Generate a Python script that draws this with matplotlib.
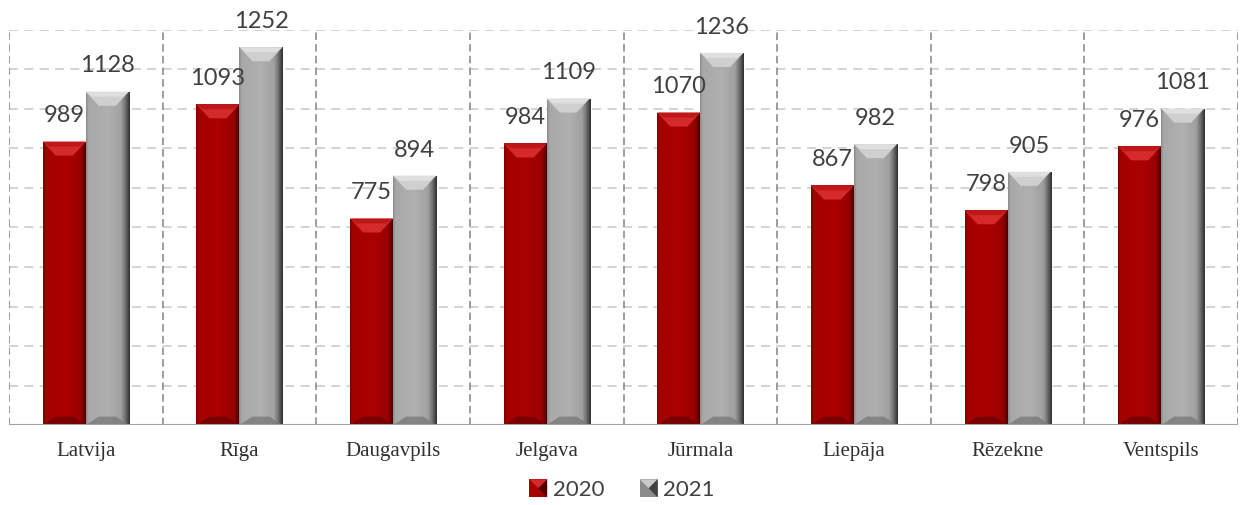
import numpy as np
import matplotlib.pyplot as plt
from matplotlib.patches import Polygon, Rectangle
from matplotlib.colors import LinearSegmentedColormap
from matplotlib.legend_handler import HandlerBase

cities = ['Latvija', 'Rīga', 'Daugavpils', 'Jelgava', 'Jūrmala', 'Liepāja', 'Rēzekne', 'Ventspils']
v2020 = [989, 1093, 775, 984, 1070, 867, 798, 976]
v2021 = [1128, 1252, 894, 1109, 1236, 982, 905, 1081]
series = ['2020', '2021']

YMIN, YMAX = 200, 1300

W, H = 12.44, 5.05
fig = plt.figure(figsize=(W, H), dpi=100)
ax = fig.add_axes([9 / 1244, 80 / 505, 1229 / 1244, 395 / 505])

x = np.arange(len(cities))
bw = 0.28
ax.set_xlim(-0.5, len(cities) - 0.5)
ax.set_ylim(YMIN, YMAX)

# pixel -> data conversion for bevel sizes
px_x = (len(cities)) / 1229.0
px_y = (YMAX - YMIN) / 395.0

red_cmap = LinearSegmentedColormap.from_list(
    'r', [(0, '#7a0000'), (0.06, '#a30000'), (0.5, '#ab0000'), (0.85, '#9a0000'), (0.93, '#6a0000'), (1, '#3a0000')])
gray_cmap = LinearSegmentedColormap.from_list(
    'g', [(0, '#8a8a8a'), (0.06, '#a8a8a8'), (0.5, '#b0b0b0'), (0.8, '#a0a0a0'), (0.9, '#6e6e6e'), (1, '#2e2e2e')])
grad = np.linspace(0, 1, 256).reshape(1, -1)


def bevel_bars(bars, cmap, top_col, top_edge, bot_col):
    for b in bars:
        x0, y0 = b.get_x(), b.get_y()
        x1, y1 = x0 + b.get_width(), y0 + b.get_height()
        im = ax.imshow(grad, cmap=cmap, extent=[x0, x1, y0, y1], aspect='auto',
                       origin='lower', zorder=3, interpolation='bilinear')
        im.set_clip_path(b)
        ix, iy = 13 * px_x, 14 * px_y
        ax.add_patch(Polygon([(x0, y1), (x1, y1), (x1 - ix, y1 - iy), (x0 + ix, y1 - iy)],
                             closed=True, fc=top_col, ec='none', zorder=4))
        ax.add_patch(Polygon([(x0, y1), (x1, y1), (x1 - ix * 0.5, y1 - iy * 0.35), (x0 + ix * 0.5, y1 - iy * 0.35)],
                             closed=True, fc=top_edge, ec='none', zorder=4, alpha=0.7))
        ax.add_patch(Polygon([(x0, y0), (x1, y0), (x1 - ix, y0 + iy * 0.6), (x0 + ix, y0 + iy * 0.6)],
                             closed=True, fc=bot_col, ec='none', zorder=4, alpha=0.8))


b1 = ax.bar(x - bw / 2, np.array(v2020) - YMIN, bw, bottom=YMIN, color='#a50000', zorder=2)
b2 = ax.bar(x + bw / 2, np.array(v2021) - YMIN, bw, bottom=YMIN, color='#a6a6a6', zorder=2)
bevel_bars(b1, red_cmap, '#d42a2a', '#b51010', '#6e0000')
bevel_bars(b2, gray_cmap, '#cfcfcf', '#e6e6e6', '#7a7a7a')

for bars, vals in ((b1, v2020), (b2, v2021)):
    for b, v in zip(bars, vals):
        ax.annotate(str(v), (b.get_x() + b.get_width() / 2, v), xytext=(0, 11),
                    textcoords='offset points', ha='center', va='bottom',
                    fontsize=17, family='Lato', color='#404040', zorder=6)

# grid
for yv in np.linspace(YMIN, YMAX, 11)[1:]:
    ax.axhline(yv, color='#d0d0d0', lw=1.3, ls=(0, (5, 3.5)), zorder=1)
for xv in np.arange(-0.5, len(cities) + 0.5, 1.0):
    ax.axvline(xv, color='#8c8c8c', lw=1.2, ls=(0, (4.5, 2.5)), zorder=1)
ax.axhline(YMIN, color='#a0a0a0', lw=1.5, zorder=5)

for s in ax.spines.values():
    s.set_visible(False)
ax.set_yticks([])
ax.set_xticks(x)
ax.set_xticklabels(cities, family='Liberation Serif', fontsize=15, color='#303030')
ax.tick_params(axis='x', length=0, pad=12)


class BevelHandler(HandlerBase):
    def __init__(self, c1, c2, c3):
        super().__init__()
        self.c = (c1, c2, c3)

    def create_artists(self, legend, orig_handle, xdescent, ydescent, width, height, fontsize, trans):
        s = height * 1.05
        x0 = -xdescent + (width - s) / 2
        y0 = -ydescent + (height - s) / 2
        base = Rectangle((x0, y0), s, s, fc=self.c[0], ec='none', transform=trans)
        tri = Polygon([(x0, y0 + s), (x0 + s, y0 + s), (x0 + s / 2, y0 + s / 2)], fc=self.c[1], ec='none', transform=trans)
        rt = Polygon([(x0 + s, y0), (x0 + s, y0 + s), (x0 + s / 2, y0 + s / 2)], fc=self.c[2], ec='none', transform=trans)
        return [base, tri, rt]


h1 = Rectangle((0, 0), 1, 1)
h2 = Rectangle((0, 0), 1, 1)
fig.legend([h1, h2], series, loc='center', bbox_to_anchor=(0.5, 0.03), ncol=2, frameon=False,
           prop={'family': 'Lato', 'size': 16}, handlelength=0.8, handleheight=0.8,
           handletextpad=0.25, columnspacing=1.6,
           handler_map={h1: BevelHandler('#a50000', '#d42a2a', '#500000'),
                        h2: BevelHandler('#8a8a8a', '#c8c8c8', '#404040')},
           labelcolor='#404040')

fig.savefig('out.png', dpi=100)
